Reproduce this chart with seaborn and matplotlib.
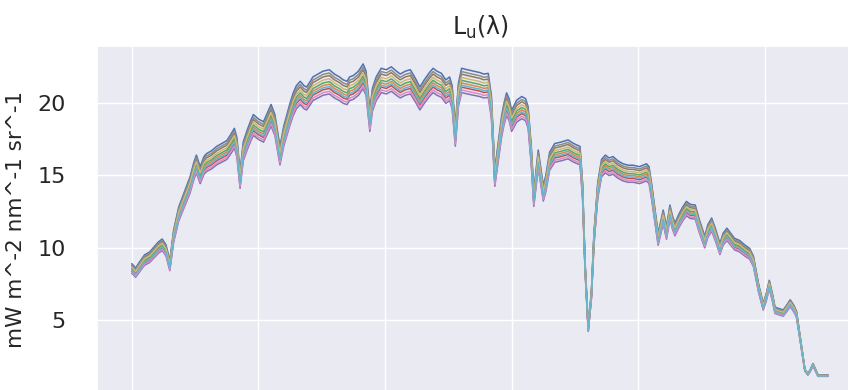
import numpy as np
import pandas as pd
import matplotlib
matplotlib.use("Agg")
import matplotlib.pyplot as plt
import seaborn as sns

sns.set_theme(style="darkgrid")

# wavelength (nm) and upwelling radiance of the brightest curve
wavelength = [
    400, 403, 406, 410, 414, 418, 421, 424, 427, 430,
    433, 437, 440, 443, 446, 449, 451, 454, 457, 459,
    463, 467, 471, 475, 478, 481, 483, 485.5, 488, 491,
    494, 496, 500, 504, 507, 510, 513, 517, 520, 522,
    525, 527.5, 530, 533, 536, 538, 541, 543, 547, 551,
    556, 560, 564, 567, 570, 572, 575, 579, 582.7, 585,
    588, 590, 593, 597, 601, 605, 609, 612, 616, 620,
    624, 627.5, 631, 635, 638, 641, 644.5, 648, 651, 653,
    655.5, 658, 660.5, 665, 670, 675, 678, 681.5, 684, 686.7,
    689, 692, 694, 696, 698, 700, 704, 708, 711, 713,
    715.5, 717.5, 719.5, 721, 723, 725, 727, 730, 734, 739,
    744.5, 749, 754, 756, 758, 760.5, 763, 765, 768, 771,
    774, 777, 780, 784, 788, 792, 796, 801, 806.5, 808.5,
    810.5, 813, 815.7, 818, 819.7, 822.3, 825, 827, 829, 832,
    835, 838, 841, 845, 848, 852.5, 855, 858, 861, 864.5,
    867, 870, 873, 876, 880, 884, 888, 891, 895, 898.7,
    901, 903.5, 906, 908, 911, 914.5, 917, 920, 923, 925,
    928, 931.6, 934, 936, 938, 940, 942, 945, 950,
]
lu_top = [
    8.9, 8.6, 9.0, 9.5, 9.7, 10.1, 10.4, 10.6, 10.2, 9.1,
    11.2, 12.8, 13.5, 14.2, 14.9, 15.9, 16.4, 15.6, 16.3, 16.5,
    16.7, 17.0, 17.2, 17.4, 17.8, 18.25, 17.6, 15.25, 17.3, 18.1,
    18.8, 19.2, 18.9, 18.7, 19.3, 19.9, 19.2, 17.0, 18.4, 19.05,
    20.0, 20.7, 21.2, 21.5, 21.2, 21.1, 21.5, 21.8, 22.0, 22.2,
    22.3, 22.0, 21.8, 21.6, 21.5, 21.8, 21.9, 22.2, 22.7, 22.2,
    19.5, 21.0, 21.8, 22.4, 22.3, 22.5, 22.2, 22.0, 22.2, 22.3,
    21.7, 21.1, 21.6, 22.1, 22.4, 22.2, 22.05, 21.6, 21.8, 21.2,
    18.4, 21.4, 22.4, 22.3, 22.2, 22.1, 22.0, 22.05, 20.5, 15.4,
    17.0, 19.05, 20.0, 20.7, 20.3, 19.5, 20.2, 20.45, 20.3, 19.75,
    17.0, 13.9, 15.5, 16.75, 15.5, 14.3, 15.0, 16.6, 17.2, 17.3,
    17.45, 17.2, 17.0, 14.5, 9.0, 4.55, 7.0, 11.0, 14.5, 16.1,
    16.4, 16.2, 16.3, 16.0, 15.8, 15.7, 15.7, 15.6, 15.8, 15.6,
    14.45, 12.8, 11.0, 11.9, 12.6, 11.45, 12.95, 12.2, 11.7, 12.3,
    12.8, 13.2, 13.0, 12.95, 12.0, 10.8, 11.6, 12.05, 11.3, 10.3,
    11.0, 11.35, 11.0, 10.65, 10.5, 10.2, 9.95, 9.4, 7.5, 6.15,
    6.8, 7.75, 6.8, 5.9, 5.8, 5.7, 6.0, 6.4, 6.0, 5.6,
    3.8, 1.6, 1.3, 1.6, 2.0, 1.6, 1.2, 1.2, 1.2,
]

# relative level of each of the ten curves against the brightest one
curve_names = ["c0", "c1", "c2", "c3", "c4", "c5", "c6", "c7", "c8", "c9"]
curve_level = [1.000, 0.955, 0.963, 0.942, 0.925, 0.982, 0.933, 0.990, 0.972, 0.948]

rows = []
for name, lev in zip(curve_names, curve_level):
    for wl, v in zip(wavelength, lu_top):
        rows.append({"wavelength": wl, "Lu": v * lev, "curve": name})
df = pd.DataFrame(rows)

fig = plt.figure(figsize=(8.48, 3.9), dpi=100)
ax = fig.add_axes([97 / 848, -3 / 390, 766 / 848, 347 / 390])

sns.lineplot(
    data=df,
    x="wavelength",
    y="Lu",
    hue="curve",
    palette=sns.color_palette("deep", 10),
    legend=False,
    errorbar=None,
    linewidth=1.1,
    ax=ax,
)

ax.set_ylim(-0.04, 23.94)
ax.set_yticks([5, 10, 15, 20])
ax.set_xticks([400, 500, 600, 700, 800, 900])
ax.set_xticklabels([])
ax.set_xlabel("")
ax.tick_params(axis="y", labelsize=16, pad=16.5)
ax.set_ylabel("mW m^-2 nm^-1 sr^-1", fontsize=15.5, labelpad=8)
ax.set_title(r"L$_{\mathregular{u}}$(λ)", fontsize=17, pad=8)

fig.savefig("out.png", dpi=100)
